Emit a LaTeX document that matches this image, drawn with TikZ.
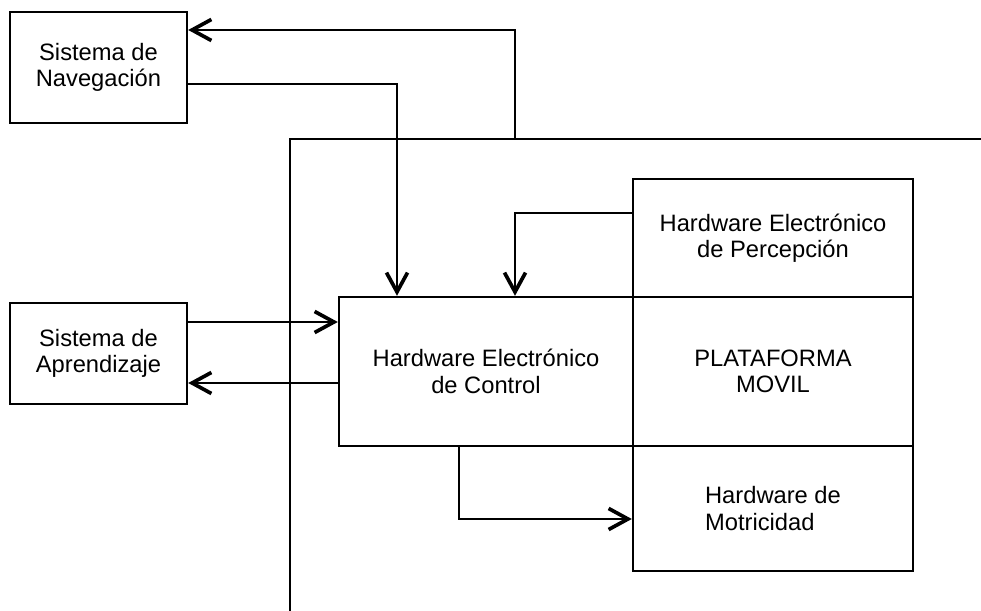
\documentclass[tikz,border=0pt]{standalone}
\usepackage{fontspec}
\setmainfont{Liberation Sans}
\usetikzlibrary{arrows.meta}

\begin{document}
\begin{tikzpicture}[x=0.02cm,y=-0.02cm,line width=1.4pt]
  \tikzstyle{block}=[rectangle,draw,inner sep=0pt,align=center,font=\fontsize{13.5}{15}\selectfont]
  \tikzstyle{arr}=[-{Straight Barb[length=11pt,width=12pt,line width=2.1pt]}]
  \useasboundingbox (0,0) rectangle (981,611);
  \node[block,minimum width=3.54cm,minimum height=2.22cm] (nav) at (98.5,67.5) {Sistema de\\Navegación};
  \node[block,minimum width=3.54cm,minimum height=2.02cm] (apr) at (98.5,353.5) {Sistema de\\Aprendizaje};
  \node[block,minimum width=5.88cm,minimum height=2.98cm] (ctrl) at (486,371.5) {Hardware Electrónico\\de Control};
  \node[block,minimum width=5.6cm,minimum height=2.36cm] (perc) at (773,238) {Hardware Electrónico\\de Percepción};
  \node[block,minimum width=5.6cm,minimum height=2.98cm] (plat) at (773,371.5) {PLATAFORMA\\MOVIL};
  \node[block,align=left,minimum width=5.6cm,minimum height=2.5cm] (motr) at (773,508.5) {Hardware de\\Motricidad};
  \coordinate (base) at (290,611);
  \coordinate (edge) at (981,139);
  \coordinate (up) at (515,139);
  \draw (base) |- (edge);
  \draw[arr] (up) |- (nav.east |- 0,30);
  \draw[arr] (nav.east |- 0,84) -| (ctrl.north -| 397,0);
  \draw[arr] (perc.west |- 0,213) -| (ctrl.north -| up);
  \draw[arr] (apr.east |- 0,322) -- (ctrl.west |- 0,322);
  \draw[arr] (ctrl.west |- 0,383) -- (apr.east |- 0,383);
  \draw[arr] (ctrl.south -| 459,0) |- (motr.west |- 0,519);
\end{tikzpicture}
\end{document}
